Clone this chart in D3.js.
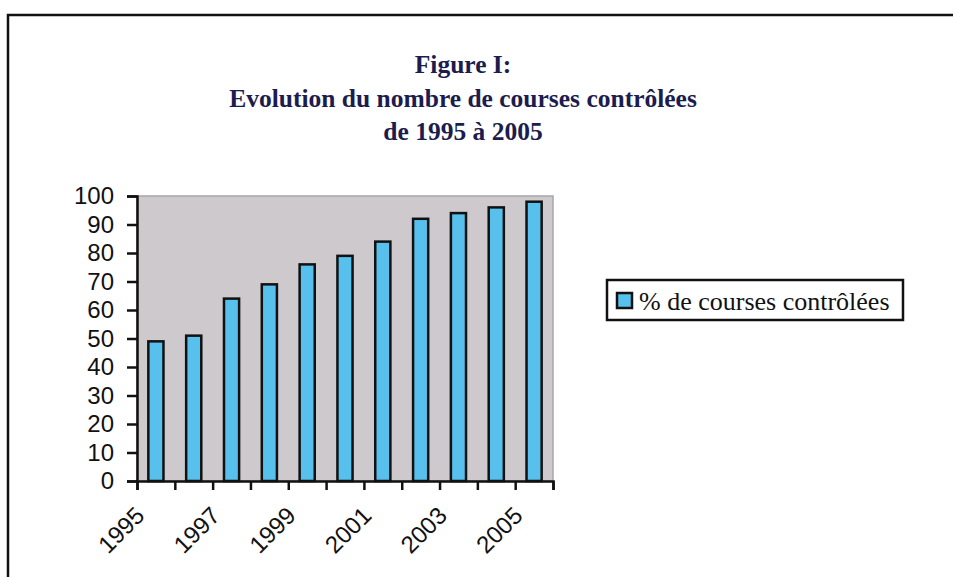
<!DOCTYPE html>
<html>
<head>
<meta charset="utf-8">
<script src="https://cdn.jsdelivr.net/npm/d3@7"></script>
<style>
  body { margin: 0; background: #fff; }
</style>
</head>
<body>
<div id="chart-area"></div>
<script>
const years = ["1995", "1996", "1997", "1998", "1999", "2000", "2001", "2002", "2003", "2004", "2005"]
const values = [49, 51, 64, 69, 76, 79, 84, 92, 94, 96, 98]
const yTicks = [0, 10, 20, 30, 40, 50, 60, 70, 80, 90, 100]
const titleLines = ["Figure I:", "Evolution du nombre de courses contrôlées", "de 1995 à 2005"]
const seriesName = "% de courses contrôlées"

const W = 953, H = 577
const PLOT = { LEFT: 137, RIGHT: 553, TOP: 196, BOTTOM: 481 }

const svg = d3.select("#chart-area").append("svg")
  .attr("width", W)
  .attr("height", H)

// outer frame (right and bottom edges are cut off)
svg.append("path")
  .attr("d", `M8,${H + 5} L8,15 L${W + 5},15`)
  .attr("fill", "none")
  .attr("stroke", "#111")
  .attr("stroke-width", 2.5)

// title
svg.append("g").selectAll("text")
  .data(titleLines)
  .enter().append("text")
    .attr("x", 463)
    .attr("y", (d, i) => 73 + i * 33.5)
    .attr("text-anchor", "middle")
    .attr("font-family", "'Liberation Serif', 'Times New Roman', serif")
    .attr("font-weight", "bold")
    .attr("font-size", "25.5px")
    .attr("fill", "#1c1c4e")
    .text(d => d)

const x = d3.scaleBand()
  .domain(years)
  .range([PLOT.LEFT, PLOT.RIGHT])
  .paddingInner(0.6)
  .paddingOuter(0.3)

const y = d3.scaleLinear()
  .domain([0, 100])
  .range([PLOT.BOTTOM, PLOT.TOP])

// plot background
svg.append("rect")
  .attr("x", PLOT.LEFT)
  .attr("y", PLOT.TOP)
  .attr("width", PLOT.RIGHT - PLOT.LEFT)
  .attr("height", PLOT.BOTTOM - PLOT.TOP)
  .attr("fill", "#cdc9cd")
  .attr("stroke", "#a9a5a9")
  .attr("stroke-width", 1.5)

// bars
svg.append("g").selectAll("rect")
  .data(values)
  .enter().append("rect")
    .attr("x", (d, i) => x(years[i]))
    .attr("y", d => y(d))
    .attr("width", x.bandwidth())
    .attr("height", d => y(0) - y(d))
    .attr("fill", "#58c0ec")
    .attr("stroke", "#111")
    .attr("stroke-width", 2.5)

// y axis
const yAxis = svg.append("g")
  .attr("transform", `translate(${PLOT.LEFT}, 0)`)
  .call(d3.axisLeft(y).tickValues(yTicks).tickSize(10).tickPadding(13))
yAxis.select(".domain").attr("stroke", "#111").attr("stroke-width", 2.5)
yAxis.selectAll(".tick line").attr("stroke", "#111").attr("stroke-width", 2.5)
yAxis.selectAll("text")
  .attr("font-family", "'Liberation Sans', Arial, sans-serif")
  .attr("font-size", "24px")
  .attr("fill", "#111")

// x axis: ticks sit between categories
const xb = d3.scaleLinear().domain([0, years.length]).range([PLOT.LEFT, PLOT.RIGHT])
const xAxis = svg.append("g")
  .attr("transform", `translate(0, ${PLOT.BOTTOM})`)
  .call(d3.axisBottom(xb).ticks(years.length).tickSize(9).tickFormat(""))
xAxis.select(".domain").attr("stroke", "#111").attr("stroke-width", 2.5)
xAxis.selectAll(".tick line").attr("stroke", "#111").attr("stroke-width", 2.5)

// rotated year labels, every other year
svg.append("g").selectAll("text")
  .data(years.filter((d, i) => i % 2 === 0))
  .enter().append("text")
    .attr("transform", d => `translate(${x(d) + x.bandwidth() / 2 - 10}, ${PLOT.BOTTOM + 36}) rotate(-45)`)
    .attr("text-anchor", "end")
    .attr("font-family", "'Liberation Sans', Arial, sans-serif")
    .attr("font-size", "24px")
    .attr("fill", "#111")
    .text(d => d)

// legend
const legend = svg.append("g")
legend.append("rect")
  .attr("x", 607).attr("y", 280)
  .attr("width", 296).attr("height", 40)
  .attr("fill", "#fff")
  .attr("stroke", "#111")
  .attr("stroke-width", 2.5)
legend.append("rect")
  .attr("x", 617).attr("y", 293)
  .attr("width", 15).attr("height", 15)
  .attr("fill", "#58c0ec")
  .attr("stroke", "#111")
  .attr("stroke-width", 2.5)
legend.append("text")
  .attr("x", 639).attr("y", 310)
  .attr("font-family", "'Liberation Serif', 'Times New Roman', serif")
  .attr("font-size", "26px")
  .attr("fill", "#111")
  .text(seriesName)
</script>
</body>
</html>
